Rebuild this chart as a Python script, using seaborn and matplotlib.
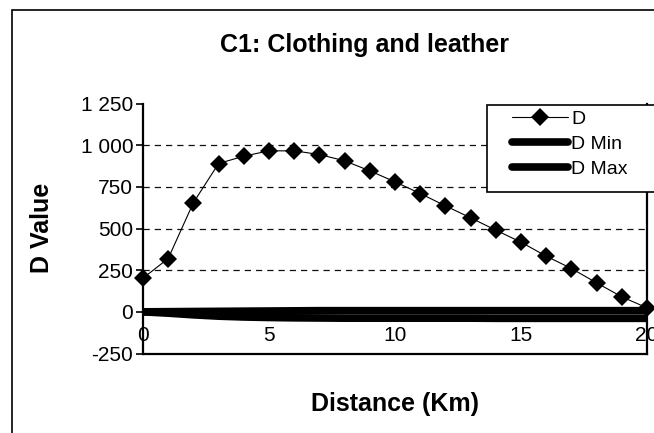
import matplotlib
matplotlib.use("Agg")
import matplotlib.pyplot as plt
from matplotlib.patches import Rectangle
import seaborn as sns
import pandas as pd

# Distance from centre (km) and the three D series
distance_km = list(range(0, 21))
d_values = [202, 320, 655, 890, 934, 966, 966, 944, 906, 846, 780,
            710, 636, 564, 490, 418, 334, 260, 174, 90, 24]
d_min = [0, -8, -18, -26, -31, -34, -36, -37, -38, -38, -38,
         -38, -38, -38, -39, -39, -39, -39, -39, -39, -39]
d_max = [0, 1, 2, 3, 4, 5, 6, 7, 7, 7, 7,
         7, 7, 7, 7, 7, 7, 7, 7, 7, 7]

y_ticks = [-250, 0, 250, 500, 750, 1000, 1250]
y_tick_labels = ["-250", "0", "250", "500", "750", "1 000", "1 250"]
x_ticks = [0, 5, 10, 15, 20]

sns.set_theme(style="white")
plt.rcParams["font.family"] = ["Liberation Sans", "DejaVu Sans"]
plt.rcParams["text.color"] = "black"
plt.rcParams["axes.labelcolor"] = "black"
plt.rcParams["xtick.color"] = "black"
plt.rcParams["ytick.color"] = "black"

df = pd.DataFrame({"Distance": distance_km, "D": d_values,
                   "D Min": d_min, "D Max": d_max})

W, H = 654, 433
fig = plt.figure(figsize=(W / 100, H / 100), dpi=100)
ax = fig.add_axes([143 / W, 1 - 353.5 / H, (647 - 143) / W, (353.5 - 103.5) / H])

sns.lineplot(data=df, x="Distance", y="D Min", ax=ax, color="black",
             linewidth=5.5, solid_capstyle="round", label="D Min", zorder=3)
sns.lineplot(data=df, x="Distance", y="D Max", ax=ax, color="black",
             linewidth=5.5, solid_capstyle="round", label="D Max", zorder=3)
sns.lineplot(data=df, x="Distance", y="D", ax=ax, color="black",
             linewidth=0.8, marker="D", markersize=9, markeredgewidth=0,
             label="D", zorder=4, clip_on=False)

ax.set_xlim(0, 20)
ax.set_ylim(-250, 1250)
ax.set_yticks(y_ticks)
ax.set_yticklabels(y_tick_labels)
ax.set_xticks(x_ticks)
ax.set_xticklabels([str(t) for t in x_ticks])

ax.yaxis.grid(True, color="#111111", linestyle=(0, (5, 4)), linewidth=0.9)
for gl, t in zip(ax.get_ygridlines(), y_ticks):
    if t in (-250, 1250):
        gl.set_visible(False)
ax.set_axisbelow(True)

for side in ("left", "bottom", "right"):
    ax.spines[side].set_color("black")
    ax.spines[side].set_linewidth(1.6)
ax.spines["top"].set_visible(False)

ax.tick_params(axis="y", direction="out", length=5, width=1.2, color="black",
               labelsize=15, pad=2, left=True)
ax.tick_params(axis="x", direction="in", length=0, labelsize=15, pad=-20)

ax.set_xlabel("")
ax.set_ylabel("")
fig.text(365 / W, 1 - 45 / H, "C1: Clothing and leather", ha="center",
         va="center", fontsize=18, fontweight="bold")
fig.text(395 / W, 1 - 404 / H, "Distance (Km)", ha="center", va="center",
         fontsize=18, fontweight="bold")
fig.text(42 / W, 1 - 228 / H, "D Value", ha="center", va="center",
         rotation=90, fontsize=18, fontweight="bold")

# legend box, running off the right edge of the chart
box = Rectangle((487 / W, 1 - 192 / H), (W + 20 - 487) / W, (192 - 105) / H,
                transform=fig.transFigure, facecolor="white",
                edgecolor="black", linewidth=1.2, zorder=5, clip_on=False)
fig.add_artist(box)
handles, labels = ax.get_legend_handles_labels()
order = [labels.index(n) for n in ("D", "D Min", "D Max")]
leg = ax.legend([handles[i] for i in order], [labels[i] for i in order],
                loc="upper left", bbox_to_anchor=(512 / W, 1 - 110 / H),
                bbox_transform=fig.transFigure, frameon=False, fontsize=14,
                handlelength=2.9, handletextpad=0.15, borderpad=0,
                labelspacing=0.38, borderaxespad=0)
leg.set_zorder(6)
fig.add_artist(leg)

# outer chart frame
frame = Rectangle((12 / W, -0.2), 1.2, 1 - 10 / H + 0.2,
                  transform=fig.transFigure, facecolor="none",
                  edgecolor="black", linewidth=1.2, zorder=7, clip_on=False)
fig.add_artist(frame)

fig.savefig("out.png", dpi=100)
